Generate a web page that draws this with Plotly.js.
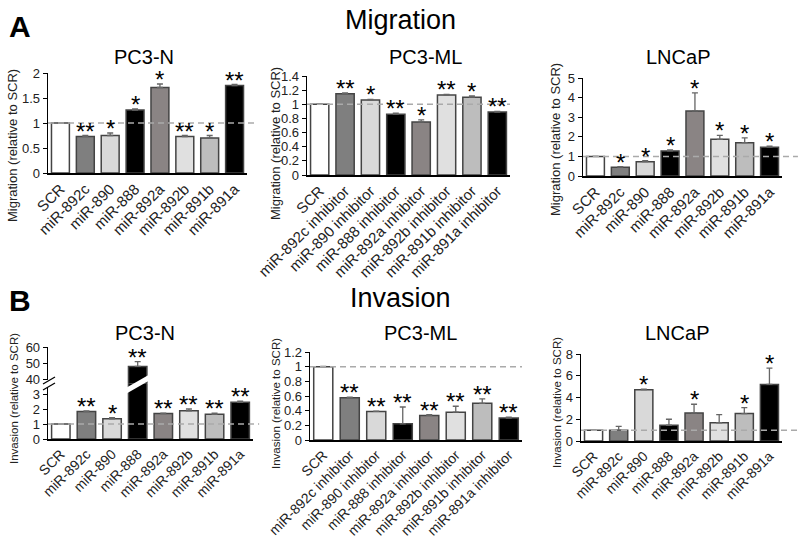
<!DOCTYPE html>
<html><head><meta charset="utf-8">
<script src="https://cdn.plot.ly/plotly-3.0.1.min.js"></script>
<style>html,body{margin:0;padding:0;background:#fff}#chart{width:800px;height:539px}</style>
</head><body><div id="chart"></div>
<script>
// ---------- data ----------
const categories = ['SCR','miR-892c','miR-890','miR-888','miR-892a','miR-892b','miR-891b','miR-891a'];
const categoriesInhibitor = ['SCR','miR-892c inhibitor','miR-890 inhibitor','miR-888 inhibitor','miR-892a inhibitor','miR-892b inhibitor','miR-891b inhibitor','miR-891a inhibitor'];
const barColors = ['#ffffff','#7f7f7f','#d9d9d9','#000000','#8a8484','#e0e0e0','#bdbdbd','#000000'];

const migPC3N = [1.0, 0.73, 0.75, 1.26, 1.71, 0.73, 0.70, 1.75];
const migPC3NErr = [0, 0.02, 0.05, 0.02, 0.07, 0.02, 0.05, 0.02];
const migPC3NStars = ['', '**', '*', '*', '*', '**', '*', '**'];

const migPC3ML = [1.0, 1.15, 1.06, 0.86, 0.75, 1.13, 1.10, 0.89];
const migPC3MLErr = [0.005, 0.01, 0.01, 0.015, 0.03, 0.01, 0.02, 0.01];
const migPC3MLStars = ['', '**', '*', '**', '*', '**', '*', '**'];

const migLNCaP = [1.0, 0.45, 0.73, 1.28, 3.32, 1.87, 1.70, 1.47];
const migLNCaPErr = [0, 0.03, 0.05, 0.05, 0.92, 0.2, 0.25, 0.05];
const migLNCaPStars = ['', '*', '*', '*', '*', '*', '*', '*'];

const invPC3N = [1.0, 1.83, 1.35, 48, 1.70, 1.88, 1.65, 2.45];
const invPC3NErr = [0, 0.05, 0.07, 3, 0.03, 0.12, 0.07, 0.08];
const invPC3NStars = ['', '**', '*', '**', '**', '**', '**', '**'];

const invPC3ML = [1.0, 0.575, 0.39, 0.22, 0.335, 0.38, 0.50, 0.30];
const invPC3MLErr = [0.005, 0.01, 0.005, 0.23, 0.01, 0.08, 0.06, 0.01];
const invPC3MLStars = ['', '**', '**', '**', '**', '**', '**', '**'];

const invLNCaP = [1.0, 1.0, 4.72, 1.45, 2.58, 1.68, 2.52, 5.2];
const invLNCaPErr = [0, 0.35, 0.05, 0.55, 0.8, 0.75, 0.55, 1.5];
const invLNCaPStars = ['', '', '*', '', '*', '', '*', '*'];

// ---------- helpers ----------
const W = 800, H = 539;
const px = v => v / W;
const py = v => 1 - v / H;
const FONT = 'Liberation Sans, Arial, sans-serif';
const TXT = '#222';

function barTrace(x, y, err, xa, ya) {
  return {
    type: 'bar', x: x, y: y, xaxis: xa, yaxis: ya,
    marker: {color: barColors, line: {color: '#444', width: 1.5}},
    error_y: {type: 'data', symmetric: false, array: err, arrayminus: err.map(() => 0),
              color: '#666', thickness: 1.3, width: 3},
    hoverinfo: 'skip', cliponaxis: true
  };
}
function xAxis(l, r, anchor, fs) {
  return {domain: [px(l), px(r)], anchor: anchor, type: 'category', showline: true,
          linecolor: '#000', linewidth: 1.5, ticks: '', tickangle: -45, showgrid: false,
          zeroline: false, automargin: false, tickfont: {size: fs, color: TXT, family: FONT}};
}
function yAxis(top, bottom, range, dtick, anchor) {
  return {domain: [py(bottom), py(top)], anchor: anchor, range: range, dtick: dtick,
          showline: true, linecolor: '#000', linewidth: 1.3, ticks: 'outside', ticklen: 4,
          tickcolor: '#000', showgrid: false, zeroline: false, automargin: false,
          tickfont: {size: 13, color: TXT, family: FONT}};
}

const traces = [
  barTrace(categories, migPC3N, migPC3NErr, 'x', 'y'),
  barTrace(categoriesInhibitor, migPC3ML, migPC3MLErr, 'x2', 'y2'),
  barTrace(categories, migLNCaP, migLNCaPErr, 'x3', 'y3'),
  barTrace(categories, invPC3N, invPC3NErr, 'x4', 'y4'),
  barTrace(categories, invPC3N, invPC3NErr, 'x4', 'y7'),
  barTrace(categoriesInhibitor, invPC3ML, invPC3MLErr, 'x5', 'y5'),
  barTrace(categories, invLNCaP, invLNCaPErr, 'x6', 'y6')
];

const lowerMax = 3.7;
const annotations = [];
function addStars(x, y, err, stars, xa, ya, yaHigh) {
  for (let i = 0; i < x.length; i++) {
    if (!stars[i]) continue;
    const top = y[i] + err[i];
    const useY = (yaHigh && top > lowerMax) ? yaHigh : ya;
    annotations.push({x: x[i], y: top, xref: xa, yref: useY, text: stars[i], showarrow: false,
      yanchor: 'bottom', yshift: -11, font: {size: 24, color: '#000', family: FONT}});
  }
}
addStars(categories, migPC3N, migPC3NErr, migPC3NStars, 'x', 'y');
addStars(categoriesInhibitor, migPC3ML, migPC3MLErr, migPC3MLStars, 'x2', 'y2');
addStars(categories, migLNCaP, migLNCaPErr, migLNCaPStars, 'x3', 'y3');
addStars(categories, invPC3N, invPC3NErr, invPC3NStars, 'x4', 'y4', 'y7');
addStars(categoriesInhibitor, invPC3ML, invPC3MLErr, invPC3MLStars, 'x5', 'y5');
addStars(categories, invLNCaP, invLNCaPErr, invLNCaPStars, 'x6', 'y6');

function label(text, x, y, size, bold, angle) {
  annotations.push({text: bold ? '<b>' + text + '</b>' : text, x: px(x), y: py(y), xref: 'paper', yref: 'paper',
    showarrow: false, xanchor: 'center', yanchor: 'middle', textangle: angle || 0,
    font: {size: size, color: angle ? TXT : '#000', family: FONT}});
}
label('A', 20, 27, 30, true);
label('Migration', 400, 20, 27);
label('B', 20, 300, 30, true);
label('Invasion', 400, 298, 27);
label('PC3-N', 144, 57, 20);
label('PC3-ML', 425, 57, 20);
label('LNCaP', 678, 57, 20);
label('PC3-N', 145, 333, 20);
label('PC3-ML', 420, 333, 20);
label('LNCaP', 677, 333, 20);
// y-axis titles
label('Migration (relative to SCR)', 12, 146, 13, false, -90);
label('Migration (relative to SCR)', 275, 144, 13, false, -90);
label('Migration (relative to SCR)', 555, 140, 13, false, -90);
label('Invasion (relative to SCR)', 14, 399, 11.5, false, -90);
label('Invasion (relative to SCR)', 276, 404, 11.5, false, -90);
label('Invasion (relative to SCR)', 557, 403, 11.5, false, -90);

function dashed(xa, ya, x1) {
  return {type: 'line', xref: xa + ' domain', yref: ya, x0: 0, x1: x1, y0: 1, y1: 1,
          line: {color: '#aaaaaa', width: 1.5, dash: '6px,4px'}, layer: 'above'};
}
const shapes = [
  dashed('x', 'y', 1.055), dashed('x2', 'y2', 1.0), dashed('x3', 'y3', 1.08),
  dashed('x4', 'y4', 1.03), dashed('x5', 'y5', 1.0), dashed('x6', 'y6', 1.08),
  // gap in the y axis line at the break
  {type: 'line', xref: 'paper', yref: 'paper', x0: px(48), x1: px(48), y0: py(380), y1: py(387),
   line: {color: '#fff', width: 4}, layer: 'above'},
  // axis break marks
  {type: 'line', xref: 'paper', yref: 'paper', x0: px(43), x1: px(55), y0: py(384), y1: py(377),
   line: {color: '#000', width: 1.3}, layer: 'above'},
  {type: 'line', xref: 'paper', yref: 'paper', x0: px(43), x1: px(55), y0: py(390), y1: py(383),
   line: {color: '#000', width: 1.3}, layer: 'above'},
  // break across the tall bar
  {type: 'line', xref: 'paper', yref: 'paper', x0: px(124), x1: px(152), y0: py(392), y1: py(376),
   line: {color: '#fff', width: 5}, layer: 'above'}
];

const layout = {
  width: W, height: H, margin: {l: 0, r: 0, t: 0, b: 0}, paper_bgcolor: '#fff', plot_bgcolor: 'rgba(0,0,0,0)',
  showlegend: false, bargap: 0.28, font: {family: FONT, color: TXT},
  xaxis: xAxis(48, 247, 'y', 15),
  yaxis: yAxis(73, 173, [0, 2], 0.5, 'x'),
  xaxis2: xAxis(307, 510, 'y2', 15),
  yaxis2: yAxis(76, 175, [0, 1.4], 0.2, 'x2'),
  xaxis3: xAxis(583, 782, 'y3', 15),
  yaxis3: yAxis(78, 176, [0, 5], 1, 'x3'),
  xaxis4: xAxis(48, 253, 'y4', 14),
  yaxis4: yAxis(383.5, 439, [0, lowerMax], 1, 'x4'),
  yaxis7: yAxis(347, 383.5, [37.5, 60], 10, 'x4'),
  xaxis5: xAxis(310, 522, 'y5', 14),
  yaxis5: yAxis(352, 440, [0, 1.2], 0.2, 'x5'),
  xaxis6: xAxis(581, 782, 'y6', 14),
  yaxis6: yAxis(354, 441, [0, 8], 2, 'x6'),
  annotations: annotations,
  shapes: shapes
};

Plotly.newPlot('chart', traces, layout, {staticPlot: true, displayModeBar: false});
</script></body></html>
